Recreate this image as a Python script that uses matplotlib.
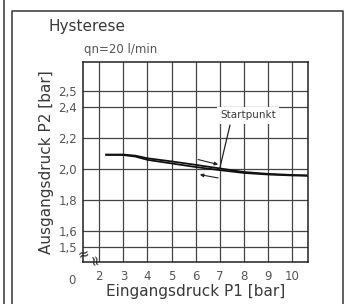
import matplotlib
matplotlib.use("Agg")
import matplotlib.pyplot as plt
from matplotlib.lines import Line2D

# values
p1 = [2.25, 3.0, 3.5, 4.0, 5.0, 6.0, 7.0, 8.0, 9.0, 10.0, 10.66]
p2_up = [2.092, 2.092, 2.085, 2.068, 2.048, 2.026, 2.003, 1.980, 1.968, 1.961, 1.958]
p2_down = [2.090, 2.089, 2.079, 2.058, 2.035, 2.012, 1.992, 1.974, 1.964, 1.958, 1.956]
x_ticks = [2, 3, 4, 5, 6, 7, 8, 9, 10]
y_ticks = [1.5, 1.6, 1.8, 2.0, 2.2, 2.4, 2.5]
y_labels = ["1,5", "1,6", "1,8", "2,0", "2,2", "2,4", "2,5"]

ink = "#3a3a3a"
plt.rcParams['font.family'] = ['DejaVu Sans']

fig = plt.figure(figsize=(3.47, 3.04), dpi=100)
ax = fig.add_axes([0.240, 0.139, 0.648, 0.657])

ax.plot(p1, p2_up, color="#111111", lw=1.3, solid_capstyle="butt")
ax.plot(p1, p2_down, color="#111111", lw=1.3, solid_capstyle="butt")

ax.set_xlim(1.337, 10.663)
ax.set_ylim(1.404, 2.686)
ax.set_xticks(x_ticks)
ax.set_xticklabels([str(t) for t in x_ticks])
ax.set_yticks(y_ticks)
ax.set_yticklabels(y_labels)
ax.tick_params(length=0, labelsize=8.5, colors="#555555")
ax.tick_params(axis="x", pad=6)
ax.tick_params(axis="y", pad=4.5)
ax.grid(True, color="#444444", lw=0.9)
for s in ax.spines.values():
    s.set_color("#222222")
    s.set_linewidth(1.1)

ax.set_xlabel("Eingangsdruck P1 [bar]", fontsize=11, color=ink, labelpad=1)
ax.set_ylabel("Ausgangsdruck P2 [bar]", fontsize=11, color=ink, labelpad=3)

# extra "0" label left of the axis break
ax.text(0.87, -0.095, "0", transform=ax.get_xaxis_transform(), fontsize=8.5,
        color="#555555", ha="center", va="center", clip_on=False)

# axis break marks
ax.text(1.337, 1.448, "≈", fontsize=10, color="#222222", ha="center", va="center",
        rotation=15, clip_on=False)
ax.text(1.72, 1.404, "≈", fontsize=10, color="#222222", ha="center", va="center",
        rotation=-80, clip_on=False)

# hysteresis arrows
ax.annotate("", xy=(6.93, 2.028), xytext=(6.10, 2.060),
            arrowprops=dict(arrowstyle="-|>", color="#222222", lw=0.8,
                            mutation_scale=5, shrinkA=0, shrinkB=0))
ax.annotate("", xy=(6.17, 1.963), xytext=(6.93, 1.942),
            arrowprops=dict(arrowstyle="-|>", color="#222222", lw=0.8,
                            mutation_scale=5, shrinkA=0, shrinkB=0))

# Startpunkt label with pointer
ax.plot([7.0, 7.42], [2.005, 2.28], color="#222222", lw=0.9)
ax.text(8.17, 2.345, "Startpunkt", fontsize=7.5, color=ink, ha="center",
        va="center", bbox=dict(fc="white", ec="none", pad=2.5))

fig.text(48 / 347, 1 - 27 / 304, "Hysterese", fontsize=11, color=ink,
         ha="left", va="center")
fig.text(84 / 347, 1 - 50 / 304, "qn=20 l/min", fontsize=8.5, color="#555555",
         ha="left", va="center")

# frame lines
fig.add_artist(Line2D([3.5 / 347, 3.5 / 347], [0, 1], color="#444444", lw=1.2))
fig.add_artist(Line2D([12 / 347, 12 / 347, 342.7 / 347, 342.7 / 347],
                      [0, 1 - 10.5 / 304, 1 - 10.5 / 304, 0],
                      color="#444444", lw=1.2))

fig.savefig("out.png", dpi=100)
